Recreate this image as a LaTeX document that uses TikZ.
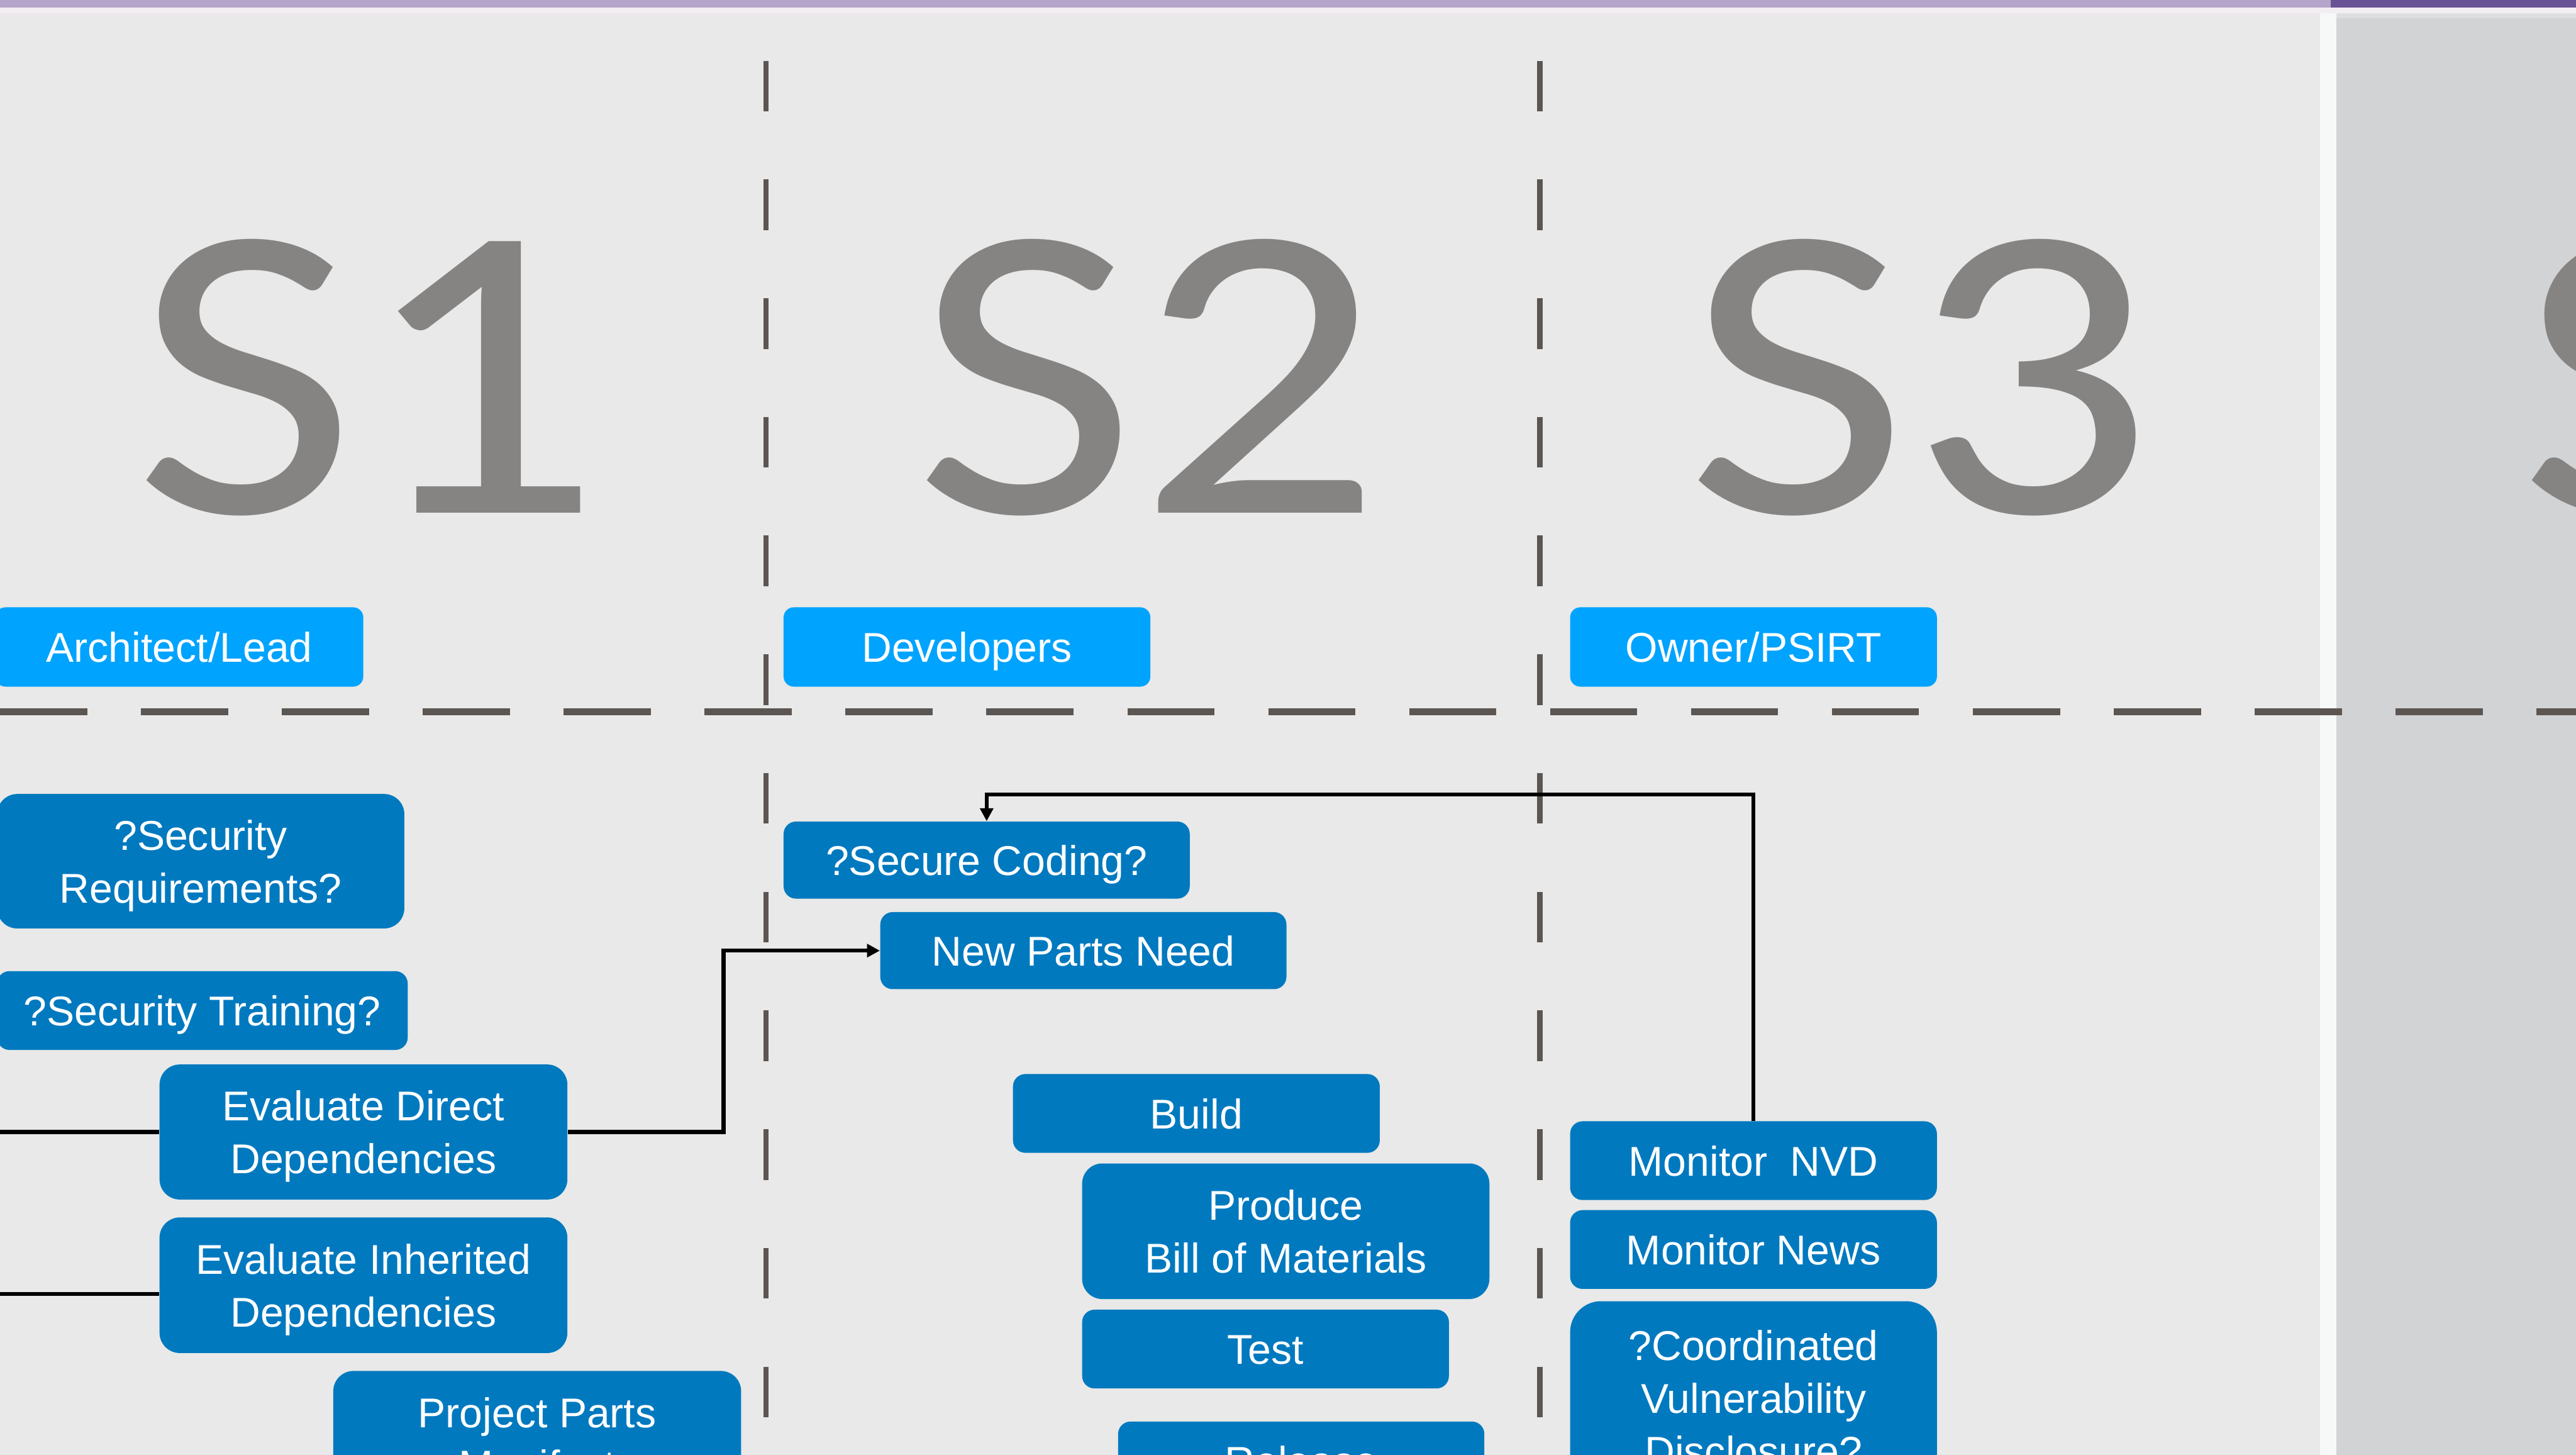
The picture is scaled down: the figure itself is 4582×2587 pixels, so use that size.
\documentclass[tikz,border=0pt]{standalone}
\usepackage{fontspec}
\setmainfont{Liberation Sans}
\newfontfamily\bigfont{Carlito}
\usepackage{graphicx}
\usetikzlibrary{arrows.meta,calc}
\definecolor{bgcol}{RGB}{232,233,232}
\definecolor{panelcol}{RGB}{210,211,213}
\definecolor{stripcol}{RGB}{247,248,248}
\definecolor{barA}{RGB}{181,165,202}
\definecolor{barB}{RGB}{106,83,149}
\definecolor{barC}{RGB}{243,238,242}
\definecolor{barD}{RGB}{235,233,236}
\definecolor{barE}{RGB}{222,222,225}
\definecolor{scol}{RGB}{134,132,131}
\definecolor{dashcol}{RGB}{92,86,83}
\definecolor{rolecol}{RGB}{0,163,254}
\definecolor{taskcol}{RGB}{0,121,191}
\newcommand{\bs}{\rule[-0.18cm]{0pt}{0.9cm}}
\begin{document}
\begin{tikzpicture}[x=0.01cm,y=-0.01cm,
  boxbase/.style={rectangle, text=white, inner sep=0pt, align=center,
    font=\fontsize{21.05pt}{25.6pt}\selectfont},
  rolebox/.style={boxbase, fill=rolecol, rounded corners=0.18cm},
  taskbox/.style={boxbase, fill=taskcol, rounded corners=0.22cm},
  taskboxii/.style={boxbase, fill=taskcol, rounded corners=0.36cm},
  taskboxiii/.style={boxbase, fill=taskcol, rounded corners=0.55cm},
  bigS/.style={inner sep=0pt, anchor=base west, text=scol,
    font=\bigfont\fontsize{213.4pt}{256pt}\selectfont},
  vdash/.style={draw=dashcol, line width=0.09cm, dash pattern=on 0.9cm off 1.21cm},
  hdash/.style={draw=dashcol, line width=0.12cm, dash pattern=on 1.55cm off 0.955cm},
  wire/.style={line width=0.07cm, black},
  arr/.style={wire, -{Triangle[length=0.23cm,width=0.23cm]}}
]
\useasboundingbox (0,0) rectangle (4582,2587);
\clip (0,0) rectangle (4582,2587);
% background
\fill[bgcol] (0,0) rectangle (4127,2587);
\fill[stripcol] (4127,0) rectangle (4156,2587);
\fill[panelcol] (4156,0) rectangle (4582,2587);
% top bar
\fill[barA] (0,0) rectangle (4146,13);
\fill[barB] (4146,0) rectangle (4582,13);
\fill[barC] (0,13) rectangle (4582,24);
\fill[barD] (0,24) rectangle (4127,32);
\fill[barE] (4156,24) rectangle (4582,32);
% big stage labels
\node[bigS] (s1) at (237,912) {\scalebox{1.15}[1]{S1}};
\node[bigS] (s2) at (1625,912) {\scalebox{1.15}[1]{S2}};
\node[bigS] (s3) at (2998,912) {\scalebox{1.15}[1]{S3}};
\node[bigS] (s4) at (4480,912) {\scalebox{1.15}[1]{S4}};
% dashed lines
\coordinate (vA1) at (1362,108); \coordinate (vA2) at (1362,2600);
\coordinate (vB1) at (2739,108); \coordinate (vB2) at (2739,2600);
\coordinate (hA1) at (0,1266); \coordinate (hA2) at (4600,1266);
\path[vdash] (vA1) -- (vA2);
\path[vdash] (vB1) -- (vB2);
\path[hdash] (hA1) -- (hA2);
% role boxes
\node[rolebox, minimum width=6.54cm, minimum height=1.41cm] (arch) at (319,1150.5) {\bs Architect/Lead};
\node[rolebox, minimum width=6.52cm, minimum height=1.41cm] (dev) at (1720,1150.5) {\bs Developers};
\node[rolebox, minimum width=6.52cm, minimum height=1.41cm] (own) at (3119,1150.5) {\bs Owner/PSIRT};
% S1 tasks
\node[taskboxii, minimum width=7.24cm, minimum height=2.39cm] (sreq) at (357,1531.5) {\bs ?Security\\\bs Requirements?};
\node[taskbox, minimum width=7.30cm, minimum height=1.40cm] (strain) at (360,1797) {\bs ?Security Training?};
\node[taskboxii, minimum width=7.25cm, minimum height=2.40cm] (edd) at (646.5,2013) {\bs Evaluate Direct\\\bs Dependencies};
\node[taskboxii, minimum width=7.25cm, minimum height=2.41cm] (edi) at (646.5,2285.5) {\bs Evaluate Inherited\\\bs Dependencies};
\node[taskboxii, minimum width=7.25cm, minimum height=2.40cm] (ppm) at (955.5,2558) {\bs Project Parts\\\bs Manifest};
% S2 tasks
\node[taskbox, minimum width=7.22cm, minimum height=1.37cm] (sc) at (1755,1529.5) {\bs ?Secure Coding?};
\node[taskbox, minimum width=7.22cm, minimum height=1.37cm] (npn) at (1927,1690.5) {\bs New Parts Need};
\node[taskbox, minimum width=6.52cm, minimum height=1.40cm] (build) at (2128,1980) {\bs Build};
\node[taskboxii, minimum width=7.24cm, minimum height=2.41cm] (bom) at (2287,2189.5) {\bs Produce\\\bs Bill of Materials};
\node[taskbox, minimum width=6.52cm, minimum height=1.40cm] (test) at (2251,2399) {\bs Test};
\node[taskbox, minimum width=6.51cm, minimum height=1.40cm] (rel) at (2314.5,2598) {\bs Release};
% S3 tasks
\node[taskbox, minimum width=6.52cm, minimum height=1.40cm] (nvd) at (3119,2064) {\bs Monitor\ \ NVD};
\node[taskbox, minimum width=6.52cm, minimum height=1.40cm] (news) at (3119,2222) {\bs Monitor News};
\node[taskboxiii, minimum width=6.52cm, minimum height=3.44cm] (cvd) at (3119,2486) {\bs ?Coordinated\\\bs Vulnerability\\\bs Disclosure?};
% connectors
\coordinate (lft) at (-20,0);
\coordinate (fbk) at (0,1413);
\coordinate (jx) at (1287,0);
\coordinate (lin2) at (-20,2301);
\draw[arr] (nvd.north) -- (nvd.north |- fbk) -| (sc.north);
\draw[arr] (edd.east) -- (edd.east -| jx) |- (npn.west);
\draw[wire] (edd.west -| lft) -- (edd.west);
\draw[wire] (lin2) -- (lin2 -| edi.west);
\end{tikzpicture}
\end{document}
